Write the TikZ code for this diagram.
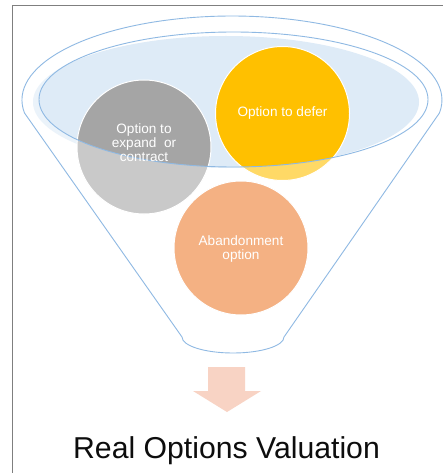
\documentclass[tikz,border=0pt]{standalone}
\usepackage{fontspec}
\setmainfont{Liberation Sans}
\definecolor{rim}{HTML}{8FB9E3}
\definecolor{rimfill}{HTML}{DEEBF7}
\definecolor{optgray}{HTML}{A5A5A5}
\definecolor{optyellow}{HTML}{FFC000}
\definecolor{optorange}{HTML}{ED7D31}
\definecolor{arrowfill}{HTML}{F8D3C4}
\definecolor{framegray}{HTML}{7F7F7F}
\tikzset{
  optcircle/.style={circle, draw=white, line width=1pt, minimum size=134pt, inner sep=0pt},
  opttext/.style={text=white, font=\fontsize{13.6}{14}\selectfont, align=center, inner sep=0pt},
  rimline/.style={draw=rim, line width=0.9pt},
  titletext/.style={text=black!95, font=\fontsize{30.2}{32}\selectfont, inner sep=0pt}
}
\begin{document}
\begin{tikzpicture}[x=1pt,y=-1pt]
\useasboundingbox (0,0) rectangle (443,473);
\fill[white] (0,0) rectangle (443,473);
% frame
\draw[framegray, line width=1.8pt] (12.5,473) -- (12.5,5.5) -- (443,5.5);
% funnel rim fill
\fill[rimfill] (226,102) ellipse [x radius=193, y radius=66];
% option circles
\node[optcircle, fill=optgray] (expand) at (144,147) {};
\node[optcircle, fill=optyellow] (defer) at (282.5,113.5) {};
\node[optcircle, fill=optorange] (abandon) at (241,248) {};
% translucent front of the funnel
\fill[white, fill opacity=0.4, even odd rule]
  (24.5,113) arc[start angle=171.1, end angle=368.9, x radius=210, y radius=84]
  -- (284,337) arc[start angle=0, end angle=180, x radius=51, y radius=16] -- cycle
  (233.5,99.5) ellipse [x radius=194.5, y radius=67.5];
% funnel outlines
\draw[rimline] (233.5,99.5) ellipse [x radius=194.5, y radius=67.5];
\draw[rimline]
  (24.5,113) arc[start angle=171.1, end angle=368.9, x radius=210, y radius=84]
  -- (284,337) arc[start angle=0, end angle=180, x radius=51, y radius=16] -- cycle;
% texts
\node[opttext] (expandtxt) at (144,143) {Option to\\expand\ \ or\\contract};
\node[opttext] (defertxt) at (282.5,112.5) {Option to defer};
\node[opttext] (abandontxt) at (241,248.5) {Abandonment\\option};
% arrow
\fill[arrowfill] (208,367) -- (245,367) -- (245,391) -- (261,391) -- (227,412)
  -- (193,391) -- (208,391) -- cycle;
% title
\node[titletext] (title) at (226.5,450.5) {Real Options Valuation};
\end{tikzpicture}
\end{document}
